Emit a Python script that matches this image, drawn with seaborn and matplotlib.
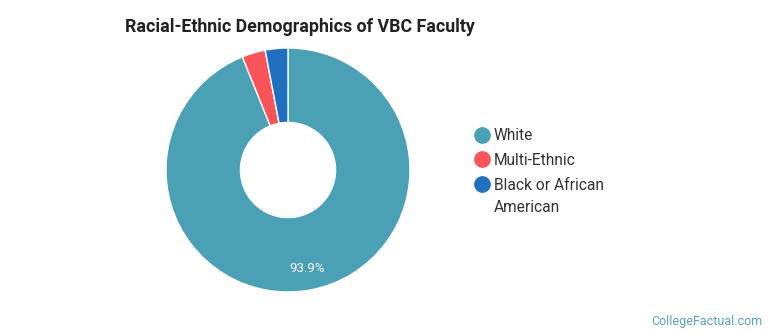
import matplotlib
matplotlib.use("Agg")
import matplotlib.pyplot as plt
from matplotlib.lines import Line2D
import seaborn as sns

# данные с картинки
groups = ["White", "Multi-Ethnic", "Black or African\nAmerican"]
shares = [93.9, 3.1, 3.0]
colors = ["#4AA0B4", "#F9545A", "#1F70BE"]

sns.set_theme(style="white")
plt.rcParams["font.family"] = ["Roboto", "DejaVu Sans"]

W, H = 770, 335
fig = plt.figure(figsize=(W / 100, H / 100), dpi=100)

# донат: центр (288,170), радиус 122 px
cx, cy, r = 288, 170, 122
ax = fig.add_axes([(cx - r) / W, (H - cy - r) / H, 2 * r / W, 2 * r / H])

def pct(p):
    return f"{p:.1f}%" if p > 10 else ""

wedges, texts, autotexts = ax.pie(
    shares, colors=colors, startangle=90, counterclock=False,
    radius=1, autopct=pct, pctdistance=0.82,
    wedgeprops=dict(width=0.61, edgecolor="white", linewidth=1),
    textprops=dict(color="white", fontsize=9.5),
)
ax.set_xlim(-1, 1)
ax.set_ylim(-1, 1)
ax.set_aspect("equal")
ax.axis("off")

fig.text(125 / W, 1 - 27 / H, "Racial-Ethnic Demographics of VBC Faculty",
         fontsize=12.8, fontweight="bold", color="#222222", va="center", ha="left")

# легенда: маркер у первой строки, продолжение подписи отдельным текстом
first_lines = [g.split("\n")[0] for g in groups]
handles = [Line2D([], [], marker="o", linestyle="", markersize=11,
                  markerfacecolor=c, markeredgecolor=c) for c in colors]
fig.legend(handles, first_lines, loc="upper left", bbox_to_anchor=(466 / W, 1 - 122 / H),
           frameon=False, fontsize=11.2, handletextpad=0.2, labelspacing=0.62,
           labelcolor="#333333", borderaxespad=0, handlelength=1.2)
for g in groups:
    rest = g.split("\n")[1:]
    if rest:
        fig.text(494 / W, 1 - 207 / H, "\n".join(rest), fontsize=11.2,
                 color="#333333", ha="left", va="center")

fig.text(763 / W, 1 - 321 / H, "CollegeFactual.com", fontsize=9.0,
         color="#5BA3B8", ha="right", va="center")

fig.savefig("out.png", dpi=100)
